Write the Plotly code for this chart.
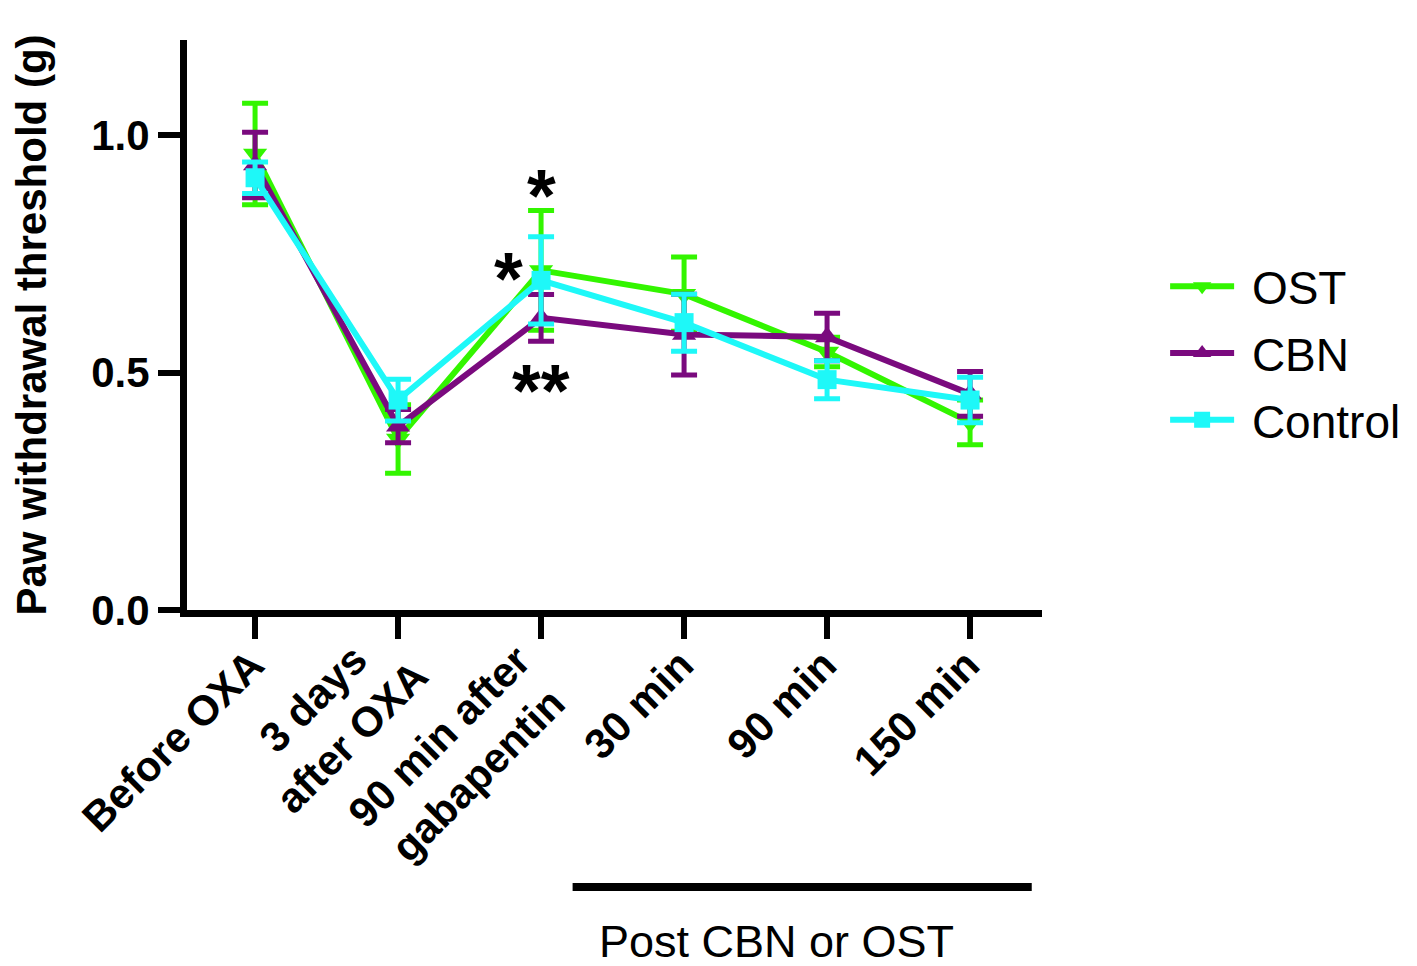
import plotly.graph_objects as go

# time points (x categories)
timepoints = ["Before OXA", "3 days<br>after OXA", "90 min after<br>gabapentin",
              "30 min", "90 min", "150 min"]
xpos = [0, 1, 2, 3, 4, 5]

# mean paw withdrawal threshold (g) and SEM
ost_mean = [0.96, 0.36, 0.715, 0.665, 0.543, 0.395]
ost_err = [0.107, 0.072, 0.126, 0.078, 0.031, 0.047]
cbn_mean = [0.937, 0.387, 0.615, 0.58, 0.575, 0.455]
cbn_err = [0.069, 0.035, 0.049, 0.085, 0.05, 0.047]
ctrl_mean = [0.91, 0.442, 0.694, 0.605, 0.485, 0.442]
ctrl_err = [0.033, 0.044, 0.092, 0.06, 0.04, 0.048]

series = [
    ("OST", ost_mean, ost_err, "#33f500", "triangle-down", 21),
    ("CBN", cbn_mean, cbn_err, "#7a0a7e", "triangle-up", 21),
    ("Control", ctrl_mean, ctrl_err, "#1ef8f8", "square", 19),
]

fig = go.Figure()
for name, mean, err, col, sym, sz in series:
    fig.add_trace(go.Scatter(
        x=xpos, y=mean, name="\u00a0" + name, legendgroup=name,
        mode="lines+markers",
        line=dict(color=col, width=6),
        marker=dict(symbol=sym, size=sz, color=col),
        error_y=dict(type="data", array=err, visible=True,
                     color=col, thickness=5, width=13),
    ))

# significance marks
stars = [(2, 0.873, "*"), (1.77, 0.697, "*"), (2, 0.463, "**")]
for sx, sy, txt in stars:
    fig.add_annotation(x=sx, y=sy, text=txt, showarrow=False,
                       font=dict(family="Liberation Sans", size=74, color="black",
                                 weight="bold"))

bold = dict(family="Liberation Sans", size=42, color="black", weight="bold")

# rotated, centre-aligned category labels under the ticks
# (two-line labels need a small extra nudge)
nudge = {1: (21, 27), 2: (19, 4)}
for xi, lab in zip(xpos, timepoints):
    dx, dy = nudge.get(xi, (0, 0))
    fig.add_annotation(x=xi, y=-0.063, xref="x", yref="paper", text=lab,
                       textangle=-45, xanchor="right", yanchor="top",
                       align="center", xshift=21 + dx, yshift=8 + dy,
                       showarrow=False, font=bold)

# bracket under the post-treatment time points
fig.add_shape(type="line", xref="paper", yref="paper",
              x0=0.451, x1=0.988, y0=-0.486, y1=-0.486,
              line=dict(color="black", width=8))
fig.add_annotation(xref="paper", yref="paper", x=0.689, y=-0.582,
                   xanchor="center", yanchor="middle",
                   text="Post CBN or OST", showarrow=False,
                   font=dict(family="Liberation Sans", size=45, color="black"))

fig.update_layout(
    width=1417, height=966,
    margin=dict(l=179, r=383, t=32, b=364),
    plot_bgcolor="white", paper_bgcolor="white",
    legend=dict(x=1.144, y=0.632, xanchor="left", yanchor="top",
                font=dict(family="Liberation Sans", size=46, color="black"),
                itemwidth=64, tracegroupgap=4),
    xaxis=dict(range=[-0.476, 5.503], tickvals=xpos, showticklabels=False,
               showgrid=False, zeroline=False, automargin=False,
               showline=True, linecolor="black", linewidth=7,
               ticks="outside", ticklen=22, tickwidth=6, tickcolor="black"),
    yaxis=dict(range=[0, 1.2], tickvals=[0, 0.5, 1.0],
               ticktext=["0.0", "0.5", "1.0"], tickfont=bold,
               showgrid=False, zeroline=False, automargin=False,
               showline=True, linecolor="black", linewidth=7,
               ticks="outside", ticklen=22, tickwidth=6, tickcolor="black",
               title=dict(text="Paw withdrawal threshold (g)", standoff=46,
                          font=dict(family="Liberation Sans", size=42,
                                    color="black", weight="bold"))),
)

fig.write_html("out.html")
